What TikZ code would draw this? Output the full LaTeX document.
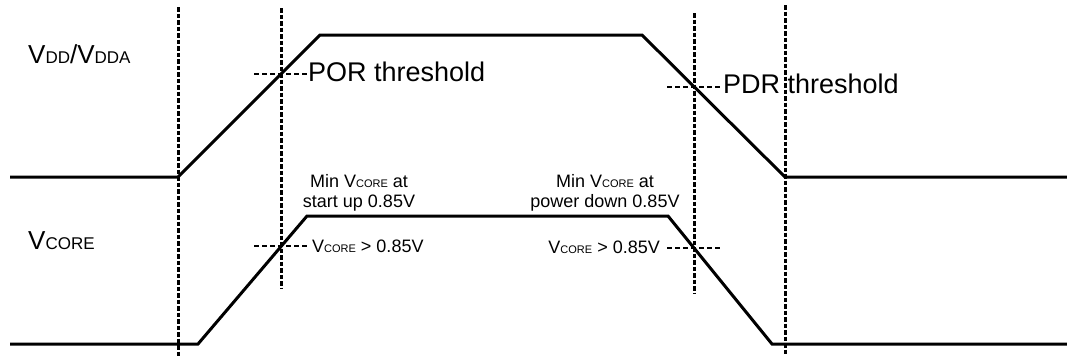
\documentclass[tikz,border=0pt]{standalone}
\usepackage{fontspec}
\setmainfont{Liberation Sans}
\newcommand{\vsub}[2]{{\fontsize{#1}{#1}\selectfont #2}}
\tikzset{
  wave/.style={line width=3pt, line join=miter},
  marker/.style={line width=3pt, dash pattern=on 4.5pt off 2pt},
  level/.style={line width=2.6pt, dash pattern=on 5pt off 3pt},
  biglabel/.style={inner sep=0pt, font=\fontsize{27}{27}\selectfont},
  smalllabel/.style={inner sep=0pt, font=\fontsize{18}{18}\selectfont}
}
\begin{document}
\begin{tikzpicture}[x=1pt,y=-1pt]
		\useasboundingbox (0,0) rectangle (1067,356);
			% V_DD / V_DDA wave
			\coordinate (d0) at (10,177);
			\coordinate (d1) at (178,177);
			\coordinate (d2) at (320,35);
			\coordinate (d3) at (642,35);
			\coordinate (d4) at (785,177);
			\coordinate (d5) at (1067,177);
			\draw [wave] (d0) -- (d1) -- (d2) -- (d3) -- (d4) -- (d5);
			% V_CORE wave
			\coordinate (c0) at (10,344);
			\coordinate (c1) at (198,344);
			\coordinate (c2) at (307,216);
			\coordinate (c3) at (668,216);
			\coordinate (c4) at (772,344);
			\coordinate (c5) at (1067,344);
			\draw [wave] (c0) -- (c1) -- (c2) -- (c3) -- (c4) -- (c5);
			% markers
			\coordinate (m1a) at (178,7);
			\coordinate (m1b) at (178,356);
			\coordinate (m2a) at (281,8);
			\coordinate (m2b) at (281,288);
			\coordinate (m3a) at (694,13);
			\coordinate (m3b) at (694,293);
			\coordinate (m4a) at (785,5);
			\coordinate (m4b) at (785,356);
			\draw [marker] (m1a) -- (m1b);
			\draw [marker] (m2a) -- (m2b);
			\draw [marker] (m3a) -- (m3b);
			\draw [marker] (m4a) -- (m4b);
			% threshold levels
			\coordinate (por1) at (254,74);
			\coordinate (por2) at (307,74);
			\coordinate (pdr1) at (667,87);
			\coordinate (pdr2) at (722,87);
			\coordinate (cup1) at (254,246);
			\coordinate (cup2) at (307,246);
			\coordinate (cdn1) at (667,248);
			\coordinate (cdn2) at (720,248);
			\draw [level] (por1) -- (por2);
			\draw [level] (pdr1) -- (pdr2);
			\draw [level] (cup1) -- (cup2);
			\draw [level] (cdn1) -- (cdn2);
			% labels
			\node [biglabel, anchor=base west, font=\fontsize{26}{26}\selectfont] (vdd) at (28,63) {V\vsub{17}{DD}/V\vsub{17}{DDA}};
			\node [biglabel, anchor=base west, font=\fontsize{26}{26}\selectfont] (vcore) at (28,249) {V\vsub{17}{CORE}};
			\node [biglabel, anchor=base west] (por) at (308,81) {POR threshold};
			\node [biglabel, anchor=base west] (pdr) at (723,93) {PDR threshold};
			\node [smalllabel, anchor=base] (minup1) at (359,187) {Min V\vsub{11}{CORE} at};
			\node [smalllabel, anchor=base] (minup2) at (359,207) {start up 0.85V};
			\node [smalllabel, anchor=base] (mindn1) at (605,187) {Min V\vsub{11}{CORE} at};
			\node [smalllabel, anchor=base] (mindn2) at (605,207) {power down 0.85V};
			\node [smalllabel, anchor=base west] (cupl) at (312,252) {V\vsub{11}{CORE} > 0.85V};
			\node [smalllabel, anchor=base east] (cdnl) at (660,253) {V\vsub{11}{CORE} > 0.85V};
		\end{tikzpicture}
\end{document}
